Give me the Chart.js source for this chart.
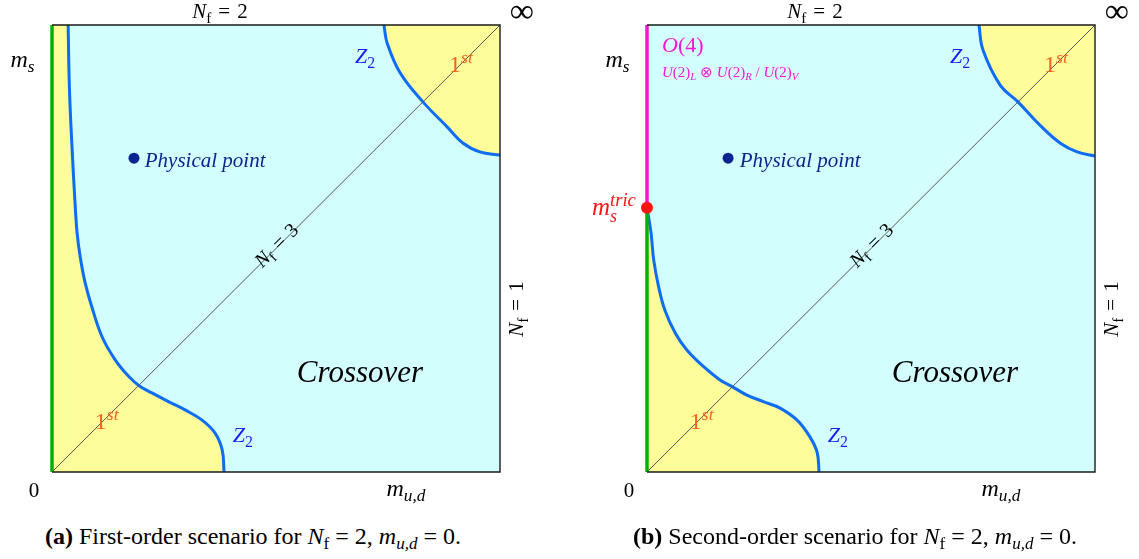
<!DOCTYPE html>
<html lang="en">
<head>
<meta charset="UTF-8">
<title>Columbia plot – N_f = 2 scenarios</title>
<script src="https://cdn.jsdelivr.net/npm/chart.js"></script>
<style>
  body { margin: 0; background: #fff; width: 1139px; height: 559px; position: relative; overflow: hidden;
         font-family: "Liberation Serif", serif; }
  .panel { position: absolute; top: 0; width: 569px; height: 515px; }
  .panel canvas { position: absolute; left: 0; top: 0; }
  .overlay { position: absolute; left: 0; top: 0; width: 569px; height: 515px; pointer-events: none; }
  .lab { position: absolute; white-space: nowrap; line-height: 1; font-family: "Liberation Serif", serif; }
  .it { font-style: italic; }
  .sb { font-size: .72em; position: relative; top: .3em; }
  .sp { font-size: .74em; position: relative; top: -.52em; }
  .stk { position: relative; display: inline-block; }
  .stk .dn { position: absolute; left: 0; top: .72em; font-size: .72em; font-style: italic; }
  .caption { position: absolute; top: 522px; font-size: 24px; line-height: 28px; color: #000; white-space: nowrap;
             transform: translateX(-50%); }
  .caption sub { font-size: 17px; vertical-align: -5px; line-height: 0; }
</style>
</head>
<body>
<div class="panel" style="left:0"><canvas id="chartA" width="569" height="515"></canvas><div class="overlay" id="labA"></div></div>
<div class="panel" style="left:570px"><canvas id="chartB" width="569" height="515"></canvas><div class="overlay" id="labB"></div></div>
<div class="caption" style="left:253px"><b>(a)</b> First-order scenario for <i>N</i><sub>f</sub> = 2, <i>m<sub>u,d</sub></i> = 0.</div>
<div class="caption" style="left:855px"><b>(b)</b> Second-order scenario for <i>N</i><sub>f</sub> = 2, <i>m<sub>u,d</sub></i> = 0.</div>

<script>
// axes run from 0 to 1 in both directions (m_ud horizontally, m_s vertically)

// (a) first-order scenario
const lowerZ2A = [
  [0.036, 1.000], [0.039, 0.855], [0.045, 0.720], [0.051, 0.609], [0.056, 0.535],
  [0.063, 0.481], [0.074, 0.423], [0.089, 0.369], [0.112, 0.302], [0.141, 0.251],
  [0.172, 0.213], [0.196, 0.192], [0.223, 0.177], [0.261, 0.157], [0.297, 0.139],
  [0.335, 0.116], [0.364, 0.087], [0.380, 0.049], [0.384, 0.000]
];
const upperZ2A = [
  [0.741, 1.000], [0.748, 0.960], [0.777, 0.893], [0.828, 0.828], [0.882, 0.772],
  [0.917, 0.736], [0.955, 0.716], [1.000, 0.709]
];
const physPointA = [0.183, 0.702];

// (b) second-order scenario
const msTric = 0.591;
const lowerZ2B = [
  [0.000, 0.591], [0.009, 0.535], [0.015, 0.474], [0.026, 0.414], [0.040, 0.362],
  [0.063, 0.311], [0.089, 0.273], [0.127, 0.235], [0.163, 0.206], [0.192, 0.190],
  [0.223, 0.172], [0.261, 0.157], [0.297, 0.143], [0.335, 0.116], [0.364, 0.078],
  [0.380, 0.043], [0.384, 0.000]
];
const upperZ2B = [
  [0.741, 1.000], [0.750, 0.944], [0.788, 0.866], [0.828, 0.828], [0.877, 0.776],
  [0.922, 0.736], [0.960, 0.716], [1.000, 0.707]
];
const physPointB = [0.181, 0.702];

const diagonal = [[0, 0], [1, 1]];

// text labels: anchor in data units, parts = [text, style]
// style: r roman, i italic, rs/is subscript, ru/iu superscript, stack = "sub|sup" on top of each other
const BLUE_T = '#1c1cf5', ORANGE = '#ff5f1f', MAGENTA = '#f515d2', NAVY = '#0b2590';
const SP = '\u2004';
const commonLabels = [
  { x: 0.375, y: 1.031, size: 21, parts: [['N', 'i'], ['f', 'rs'], [SP + '=' + SP + '2', 'r']] },
  { x: 1.049, y: 1.031, size: 34, parts: [['∞', 'r']] },
  { x: -0.066, y: 0.924, size: 24, parts: [['m', 'i'], ['s', 'is']] },
  { x: -0.040, y: -0.040, size: 21, parts: [['0', 'r']] },
  { x: 0.79, y: -0.036, size: 24, parts: [['m', 'i'], ['u,d', 'is']] },
  { x: 1.035, y: 0.365, size: 21, rot: -90, parts: [['N', 'i'], ['f', 'rs'], [SP + '=' + SP + '1', 'r']] },
  { x: 0.5, y: 0.508, size: 20, rot: -45, parts: [['N', 'i'], ['f', 'rs'], [SP + '=' + SP + '3', 'r']] },
  { x: 0.207, y: 0.698, size: 21, color: NAVY, align: 'left', parts: [['Physical point', 'i']] },
  { x: 0.6875, y: 0.226, size: 31, parts: [['Crossover', 'i']] },
  { x: 0.699, y: 0.930, size: 22, color: BLUE_T, parts: [['Z', 'i'], ['2', 'rs']] },
  { x: 0.426, y: 0.083, size: 22, color: BLUE_T, parts: [['Z', 'i'], ['2', 'rs']] },
  { x: 0.913, y: 0.912, size: 24, color: ORANGE, parts: [['1', 'r'], ['st', 'iu']] },
  { x: 0.122, y: 0.114, size: 24, color: ORANGE, parts: [['1', 'r'], ['st', 'iu']] }
];
const labelsA = commonLabels;
const labelsB = commonLabels.concat([
  { x: 0.080, y: 0.955, size: 22, color: MAGENTA, parts: [['O', 'i'], ['(4)', 'r']] },
  { x: 0.0335, y: 0.895, size: 15, color: MAGENTA, align: 'left',
    parts: [['U', 'i'], ['(2)', 'r'], ['L', 'is'], [' ⊗ ', 'r'], ['U', 'i'], ['(2)', 'r'], ['R', 'is'],
            [' / ', 'r'], ['U', 'i'], ['(2)', 'r'], ['V', 'is']] },
  { x: -0.025, y: 0.594, size: 25, color: '#ff1414', align: 'right', parts: [['m', 'i'], ['s|tric', 'stack']] }
]);

const CYAN = '#d3fefe', YELLOW = '#fdfd9a', BLUE = '#0f6cf5', GREEN = '#04b004';
const pts = arr => arr.map(p => ({ x: p[0], y: p[1] }));

const CLS = { i: 'it', r: '', is: 'it sb', rs: 'sb', iu: 'it sp', ru: 'sp' };
function labelHTML(parts) {
  return parts.map(([t, st]) => {
    if (st === 'stack') {
      const [lo, hi] = t.split('|');
      return '<span class="stk"><span class="it sp">' + hi + '</span><span class="dn">' + lo + '</span></span>';
    }
    return '<span class="' + CLS[st] + '">' + t + '</span>';
  }).join('');
}

function placeLabels(chart, holderId, labels) {
  const holder = document.getElementById(holderId);
  const xs = chart.scales.x, ys = chart.scales.y;
  labels.forEach(l => {
    const d = document.createElement('div');
    d.className = 'lab';
    d.innerHTML = labelHTML(l.parts);
    d.style.left = xs.getPixelForValue(l.x) + 'px';
    d.style.top = ys.getPixelForValue(l.y) + 'px';
    d.style.fontSize = l.size + 'px';
    d.style.color = l.color || '#000';
    const tx = l.align === 'left' ? '0' : l.align === 'right' ? '-100%' : '-50%';
    d.style.transform = 'translate(' + tx + ',-50%)' + (l.rot ? ' rotate(' + l.rot + 'deg)' : '');
    holder.appendChild(d);
  });
}

const panelPlugin = {
  id: 'panel',
  beforeDraw(chart) {
    const a = chart.chartArea, ctx = chart.ctx;
    ctx.save();
    ctx.fillStyle = CYAN;
    ctx.fillRect(a.left, a.top, a.right - a.left, a.bottom - a.top);
    ctx.restore();
  },
  afterDatasetsDraw(chart) {
    const a = chart.chartArea, ctx = chart.ctx;
    ctx.save();
    ctx.strokeStyle = '#1a1a1a';
    ctx.lineWidth = 1.4;
    ctx.beginPath();
    ctx.moveTo(a.left, a.top); ctx.lineTo(a.right, a.top);
    ctx.lineTo(a.right, a.bottom); ctx.lineTo(a.left, a.bottom);
    ctx.stroke();
    ctx.restore();
  }
};

function curve(data, fill, order) {
  return {
    data: pts(data), showLine: true, fill: fill, backgroundColor: YELLOW,
    borderColor: BLUE, borderWidth: 3, tension: 0.4, pointRadius: 0, order: order
  };
}

function makeChart(id, datasets, padding) {
  return new Chart(document.getElementById(id), {
    type: 'scatter',
    data: { datasets: datasets },
    options: {
      responsive: false,
      animation: false,
      events: [],
      layout: { padding: padding },
      scales: {
        x: { type: 'linear', min: 0, max: 1, display: false },
        y: { type: 'linear', min: 0, max: 1, display: false }
      },
      plugins: { legend: { display: false }, tooltip: { enabled: false } }
    },
    plugins: [panelPlugin]
  });
}

const chartA = makeChart('chartA', [
  curve(lowerZ2A, 'origin', 6),
  // strip between the m_s axis and the top of the Z2 line, also first order
  { data: pts([[0, 1], [lowerZ2A[0][0], 1]]), showLine: true, fill: 'origin', backgroundColor: YELLOW,
    borderWidth: 0, borderColor: 'rgba(0,0,0,0)', pointRadius: 0, order: 7 },
  curve(upperZ2A, 'end', 6),
  { data: pts(diagonal), showLine: true, borderColor: '#555', borderWidth: 1, pointRadius: 0, order: 4 },
  { data: pts([[0, 0], [0, 1]]), showLine: true, borderColor: GREEN, borderWidth: 3.5, pointRadius: 0, order: 3, clip: false },
  { data: pts([physPointA]), pointRadius: 5.5, backgroundColor: NAVY, borderWidth: 0, order: 2 }
], { left: 52, top: 25, right: 69, bottom: 43 });

const chartB = makeChart('chartB', [
  curve(lowerZ2B, 'origin', 6),
  curve(upperZ2B, 'end', 6),
  { data: pts(diagonal), showLine: true, borderColor: '#555', borderWidth: 1, pointRadius: 0, order: 4 },
  { data: pts([[0, 0], [0, msTric]]), showLine: true, borderColor: GREEN, borderWidth: 3.5, pointRadius: 0, order: 3, clip: false },
  { data: pts([[0, msTric], [0, 1]]), showLine: true, borderColor: MAGENTA, borderWidth: 3.5, pointRadius: 0, order: 3, clip: false },
  { data: pts([physPointB]), pointRadius: 5.5, backgroundColor: NAVY, borderWidth: 0, order: 2 },
  { data: pts([[0, msTric]]), pointRadius: 6, backgroundColor: '#ff1414', borderWidth: 0, order: 1, clip: false }
], { left: 77, top: 25, right: 44, bottom: 43 });

placeLabels(chartA, 'labA', labelsA);
placeLabels(chartB, 'labB', labelsB);
</script>
</body>
</html>
